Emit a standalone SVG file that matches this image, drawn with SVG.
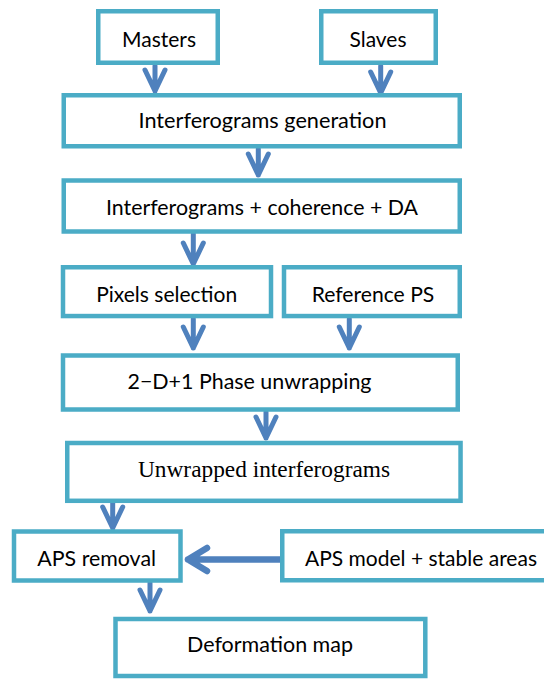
<svg xmlns="http://www.w3.org/2000/svg" width="544" height="679" viewBox="0 0 544 679">
<style>
.box{fill:#ffffff;stroke:#4BACC6;stroke-width:4.5}
.t{font-family:Lato,"Liberation Sans",sans-serif;font-size:21px;fill:#000000;text-anchor:middle}
.s{font-family:"Liberation Serif",serif;font-size:23px;fill:#000000;text-anchor:middle}
.arr{fill:none;stroke:#4F81BD;stroke-width:5;stroke-linecap:round;stroke-linejoin:round}
.harr{fill:none;stroke:#4F81BD;stroke-width:6.5;stroke-linecap:round;stroke-linejoin:round}
</style>
<rect width="544" height="679" fill="#ffffff"/>
<g id="connectors">
<path class="arr" d="M155 66V91M145 70L155 91L165 70"/>
<path class="arr" d="M380.7 66V93M370.7 72L380.7 93L390.7 72"/>
<path class="arr" d="M258.3 149V175M248.3 154L258.3 175L268.3 154"/>
<path class="arr" d="M193.3 234V264M183.3 243L193.3 264L203.3 243"/>
<path class="arr" d="M193.3 319V348M183.3 327L193.3 348L203.3 327"/>
<path class="arr" d="M349.3 319V348M339.3 327L349.3 348L359.3 327"/>
<path class="arr" d="M266 412V438M256 417L266 438L276 417"/>
<path class="arr" d="M112.7 503V528M102.7 507L112.7 528L122.7 507"/>
<path class="arr" d="M150 583V611M140 590L150 611L160 590"/>
<path class="harr" d="M280 559.5H188M207 548L188 559.5L207 571"/>
</g>
<g id="masters"><rect class="box" x="98.25" y="11.25" width="119.5" height="51.5"/><text class="t" x="159" y="46.7" textLength="74" lengthAdjust="spacingAndGlyphs">Masters</text></g>
<g id="slaves"><rect class="box" x="321.25" y="11.25" width="114.5" height="51.5"/><text class="t" x="378" y="46.7" textLength="57" lengthAdjust="spacingAndGlyphs">Slaves</text></g>
<g id="interferograms-generation"><rect class="box" x="63.75" y="95.25" width="396" height="51"/><text class="t" x="262.5" y="128.3" textLength="248" lengthAdjust="spacingAndGlyphs">Interferograms generation</text></g>
<g id="interferograms-coherence-da"><rect class="box" x="63.75" y="180.5" width="396" height="51"/><text class="t" x="262" y="215" textLength="312" lengthAdjust="spacingAndGlyphs">Interferograms + coherence + DA</text></g>
<g id="pixels-selection"><rect class="box" x="63" y="267.25" width="208" height="48.8"/><text class="t" x="166.7" y="302.3" textLength="141" lengthAdjust="spacingAndGlyphs">Pixels selection</text></g>
<g id="reference-ps"><rect class="box" x="284" y="267.25" width="175.75" height="48.8"/><text class="t" x="373" y="302.3" textLength="122.6" lengthAdjust="spacingAndGlyphs">Reference PS</text></g>
<g id="phase-unwrapping"><rect class="box" x="63" y="355.5" width="394.75" height="54"/><text class="t" x="249.5" y="389.3" textLength="244" lengthAdjust="spacingAndGlyphs">2−D+1 Phase unwrapping</text></g>
<g id="unwrapped-interferograms"><rect class="box" x="67.25" y="443" width="393.3" height="57.8"/><text class="s" x="264" y="477" textLength="252" lengthAdjust="spacingAndGlyphs">Unwrapped interferograms</text></g>
<g id="aps-removal"><rect class="box" x="14" y="531.5" width="166.5" height="49"/><text class="t" x="96.7" y="566" textLength="118.7" lengthAdjust="spacingAndGlyphs">APS removal</text></g>
<g id="aps-model"><rect class="box" x="282.25" y="531.25" width="300" height="49"/><text class="t" x="421" y="566" textLength="232" lengthAdjust="spacingAndGlyphs">APS model + stable areas</text></g>
<g id="deformation-map"><rect class="box" x="115.5" y="619" width="309.8" height="57"/><text class="t" x="270" y="651.7" textLength="166" lengthAdjust="spacingAndGlyphs">Deformation map</text></g>
</svg>
